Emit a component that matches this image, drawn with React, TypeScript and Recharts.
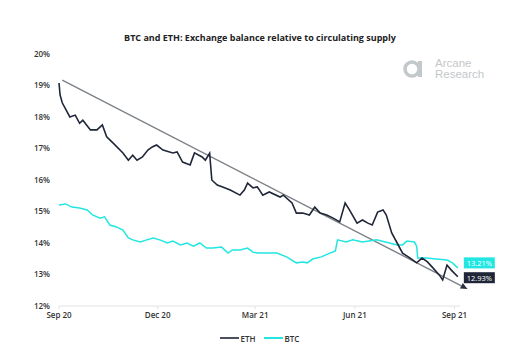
import { Legend, Line, LineChart, ReferenceLine, XAxis, YAxis } from "recharts";

// days since 1 Sep 2020
const ethDays = [0, 1, 3, 10, 15, 19, 22, 29, 35, 40, 44, 50, 59, 64, 68, 72, 77, 82, 86, 90, 96, 105, 109, 114, 121, 125, 132, 135, 139, 141, 146, 151, 158, 167, 171, 174, 179, 183, 185, 188, 194, 204, 207, 215, 219, 225, 231, 236, 241, 247, 253, 259, 264, 268, 275, 280, 285, 289, 294, 299, 302, 307, 312, 317, 324, 330, 335, 340, 345, 351, 354, 358, 362, 368];
const ethValues = [19.08, 18.7, 18.45, 18.0, 18.06, 17.8, 17.9, 17.59, 17.59, 17.75, 17.37, 17.17, 16.86, 16.63, 16.79, 16.63, 16.73, 16.95, 17.05, 17.11, 16.95, 16.86, 16.89, 16.57, 16.48, 16.86, 16.73, 16.63, 16.85, 16.0, 15.84, 15.78, 15.68, 15.52, 15.68, 15.9, 15.75, 15.78, 15.68, 15.52, 15.62, 15.46, 15.52, 15.27, 14.95, 14.95, 14.89, 15.14, 14.95, 14.89, 14.79, 14.67, 15.27, 15.05, 14.63, 14.73, 14.63, 14.57, 14.98, 15.05, 14.89, 14.32, 14.0, 13.68, 13.52, 13.37, 13.52, 13.4, 13.21, 12.98, 12.83, 13.3, 13.14, 12.93];

const btcDays = [0, 6, 12, 19, 26, 31, 38, 42, 47, 53, 59, 64, 68, 75, 81, 87, 93, 100, 105, 112, 118, 124, 130, 136, 142, 150, 156, 160, 167, 174, 179, 183, 192, 201, 210, 219, 225, 229, 234, 242, 250, 255, 257, 265, 271, 280, 293, 305, 312, 317, 321, 328, 330, 331, 339, 348, 358, 363, 368];
const btcValues = [15.21, 15.24, 15.14, 15.11, 15.05, 14.89, 14.79, 14.83, 14.57, 14.51, 14.41, 14.16, 14.1, 14.03, 14.1, 14.16, 14.1, 14.0, 14.06, 13.94, 14.0, 13.9, 14.0, 13.84, 13.84, 13.87, 13.68, 13.78, 13.78, 13.84, 13.71, 13.68, 13.68, 13.68, 13.56, 13.37, 13.4, 13.37, 13.49, 13.56, 13.68, 13.75, 14.1, 14.03, 14.1, 14.03, 14.1, 14.0, 13.94, 13.94, 14.06, 14.03, 13.9, 13.52, 13.52, 13.49, 13.46, 13.37, 13.21];

const tickDays = [0, 91, 181, 273, 365];
const tickLabels = ["Sep 20", "Dec 20", "Mar 21", "Jun 21", "Sep 21"];
const yTicks = [12, 13, 14, 15, 16, 17, 18, 19, 20];

const trendStart = { day: 3, value: 19.17 };
const trendEnd = { day: 377, value: 12.54 };

const ETH_COLOR = "#1f2638";
const BTC_COLOR = "#22e6e2";
const TREND_COLOR = "#7c8088";
const FONT = "'Open Sans', sans-serif";

const ethData = ethDays.map((day, i) => ({ day, value: ethValues[i] }));
const btcData = btcDays.map((day, i) => ({ day, value: btcValues[i] }));

function endLabel(count: number, bg: string, dy: number) {
  return (props: any) => {
    if (props.index !== count - 1) return null;
    const x = props.x + 6;
    const y = props.y + dy;
    return (
      <g>
        <rect x={x} y={y - 5.5} width={31} height={11} fill={bg} />
        <text
          x={x + 15.5}
          y={y + 3}
          textAnchor="middle"
          fontSize={7.5}
          fontFamily={FONT}
          fill="#fff"
        >
          {`${props.value.toFixed(2)}%`}
        </text>
      </g>
    );
  };
}

function TrendShape(props: any) {
  const { x1, y1, x2, y2 } = props;
  if (x1 == null) return null;
  const ang = Math.atan2(y2 - y1, x2 - x1);
  const len = 7;
  const w = 3;
  const bx = x2 - len * Math.cos(ang);
  const by = y2 - len * Math.sin(ang);
  const px = -Math.sin(ang) * w;
  const py = Math.cos(ang) * w;
  return (
    <g>
      <line x1={x1} y1={y1} x2={bx} y2={by} stroke={TREND_COLOR} strokeWidth={1.4} />
      <polygon
        points={`${x2},${y2} ${bx + px},${by + py} ${bx - px},${by - py}`}
        fill="#2a3040"
      />
    </g>
  );
}

function LegendContent() {
  const item = (color: string, name: string) => (
    <span style={{ display: "flex", alignItems: "center", marginRight: 8 }}>
      <span style={{ width: 19, height: 2, background: color, display: "inline-block", marginRight: 2 }} />
      <span>{name}</span>
    </span>
  );
  return (
    <div
      style={{
        height: 14,
        display: "flex",
        justifyContent: "center",
        alignItems: "center",
        paddingLeft: 16,
        fontFamily: FONT,
        fontSize: 8,
        fontWeight: 600,
        color: "#333",
      }}
    >
      {item("#4a5060", "ETH")}
      {item(BTC_COLOR, "BTC")}
    </div>
  );
}

function Logo() {
  const text = {
    position: "absolute" as const,
    left: 32,
    fontFamily: "'Liberation Sans', Arial, sans-serif",
    fontSize: 11.5,
    lineHeight: "11px",
    color: "#c3c8ca",
    whiteSpace: "nowrap" as const,
  };
  return (
    <div style={{ position: "absolute", left: 403, top: 56, width: 100, height: 24 }}>
      <svg width={22} height={22} style={{ position: "absolute", left: 0, top: 1 }}>
        <circle cx={9} cy={12} r={7} fill="none" stroke="#c3c8ca" strokeWidth={3.5} />
        <rect x={15} y={4} width={4} height={16} fill="#c3c8ca" />
      </svg>
      <div style={{ ...text, top: 2 }}>Arcane</div>
      <div style={{ ...text, top: 13 }}>Research</div>
    </div>
  );
}

export default function App() {
  return (
    <div style={{ position: "absolute", left: 0, top: 0, width: 511, height: 353, background: "#fff" }}>
      <div
        style={{
          position: "absolute",
          top: 31,
          left: 0,
          width: 520,
          textAlign: "center",
          fontFamily: FONT,
          fontWeight: 700,
          fontSize: 9,
          color: "#222",
        }}
      >
        BTC and ETH: Exchange balance relative to circulating supply
      </div>
      <Logo />
      <LineChart width={511} height={353} margin={{ top: 54, right: 51, bottom: 8, left: 0 }}>
        <XAxis
          type="number"
          dataKey="day"
          domain={[0, 370]}
          ticks={tickDays}
          tickFormatter={(v: number) => tickLabels[tickDays.indexOf(v)]}
          height={25}
          stroke="#e2e2e2"
          tickSize={3}
          tickMargin={3}
          tick={{ fontSize: 8, fontFamily: FONT, fontWeight: 600, fill: "#333" }}
        />
        <YAxis
          type="number"
          domain={[12, 20]}
          ticks={yTicks}
          tickFormatter={(v: number) => `${v}%`}
          width={59}
          axisLine={false}
          tickLine={false}
          tickSize={0}
          tickMargin={9}
          tick={{ fontSize: 8, fontFamily: FONT, fontWeight: 600, fill: "#333" }}
        />
        <ReferenceLine
          segment={[
            { x: trendStart.day, y: trendStart.value },
            { x: trendEnd.day, y: trendEnd.value },
          ]}
          ifOverflow="visible"
          shape={TrendShape}
        />
        <Line
          data={btcData}
          dataKey="value"
          name="BTC"
          stroke={BTC_COLOR}
          strokeWidth={1.5}
          dot={false}
          isAnimationActive={false}
          label={endLabel(btcData.length, BTC_COLOR, -5)}
        />
        <Line
          data={ethData}
          dataKey="value"
          name="ETH"
          stroke={ETH_COLOR}
          strokeWidth={1.6}
          dot={false}
          isAnimationActive={false}
          label={endLabel(ethData.length, ETH_COLOR, 1)}
        />
        <Legend verticalAlign="bottom" height={14} wrapperStyle={{ left: 0, width: 511 }} content={LegendContent} />
      </LineChart>
    </div>
  );
}
